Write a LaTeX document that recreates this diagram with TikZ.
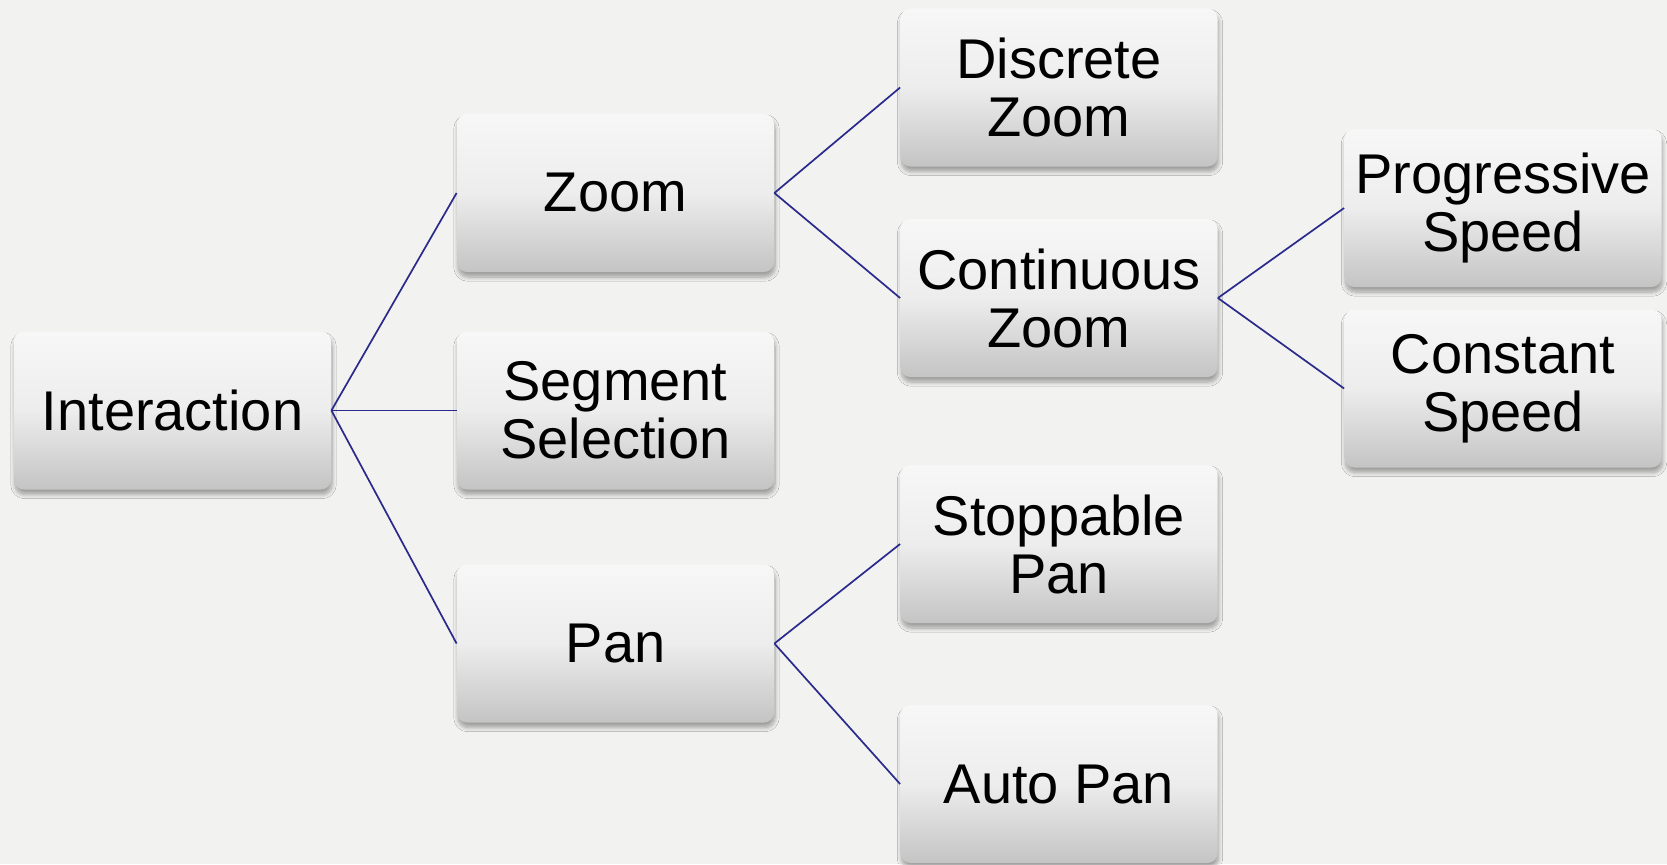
\documentclass[tikz,border=0pt]{standalone}
\usepackage{fontspec}
\setmainfont{Liberation Sans}
\usetikzlibrary{shadows.blur}
\definecolor{bg}{HTML}{F2F2F0}
\definecolor{boxtop}{HTML}{F7F7F7}
\definecolor{boxbot}{HTML}{C4C4C4}
\definecolor{link}{HTML}{2A2A8C}
\tikzset{
  boxnode/.style={rounded corners=5pt, minimum width=158.5pt, minimum height=79pt,
    inner sep=0pt, align=center, top color=boxtop, bottom color=boxbot,
    middle color=boxtop!80!boxbot, shading angle=0,
    font=\fontsize{28}{29}\selectfont,
    blur shadow={shadow xshift=0.5pt, shadow yshift=-2.5pt, shadow blur steps=8, shadow opacity=35}},
  linkline/.style={draw=link, line width=0.85pt}
}
\begin{document}
\begin{tikzpicture}[x=0.5pt,y=-0.5pt]
\fill[bg] (0,0) rectangle (1667,864);
\useasboundingbox (0,0) rectangle (1667,864);
% first level
\node[boxnode] (inter) at (172.5,410.5) {Interaction};
% second level
\node[boxnode] (zoom) at (615.5,193) {Zoom};
\node[boxnode] (seg) at (615.5,410.5) {Segment\\Selection};
\node[boxnode] (pan) at (615.5,643.5) {Pan};
% third level
\node[boxnode] (dzoom) at (1059,87.5) {Discrete\\Zoom};
\node[boxnode] (czoom) at (1059,298) {Continuous\\Zoom};
\node[boxnode] (span) at (1059,544) {Stoppable\\Pan};
\node[boxnode] (apan) at (1059,784) {Auto Pan};
% fourth level
\node[boxnode] (prog) at (1503,208) {Progressive\\Speed};
\node[boxnode] (const) at (1503,388.5) {Constant\\Speed};
% connectors
\draw[linkline] (inter.east) -- (zoom.west);
\draw[linkline] (inter.east) -- (seg.west);
\draw[linkline] (inter.east) -- (pan.west);
\draw[linkline] (zoom.east) -- (dzoom.west);
\draw[linkline] (zoom.east) -- (czoom.west);
\draw[linkline] (pan.east) -- (span.west);
\draw[linkline] (pan.east) -- (apan.west);
\draw[linkline] (czoom.east) -- (prog.west);
\draw[linkline] (czoom.east) -- (const.west);
\end{tikzpicture}
\end{document}
